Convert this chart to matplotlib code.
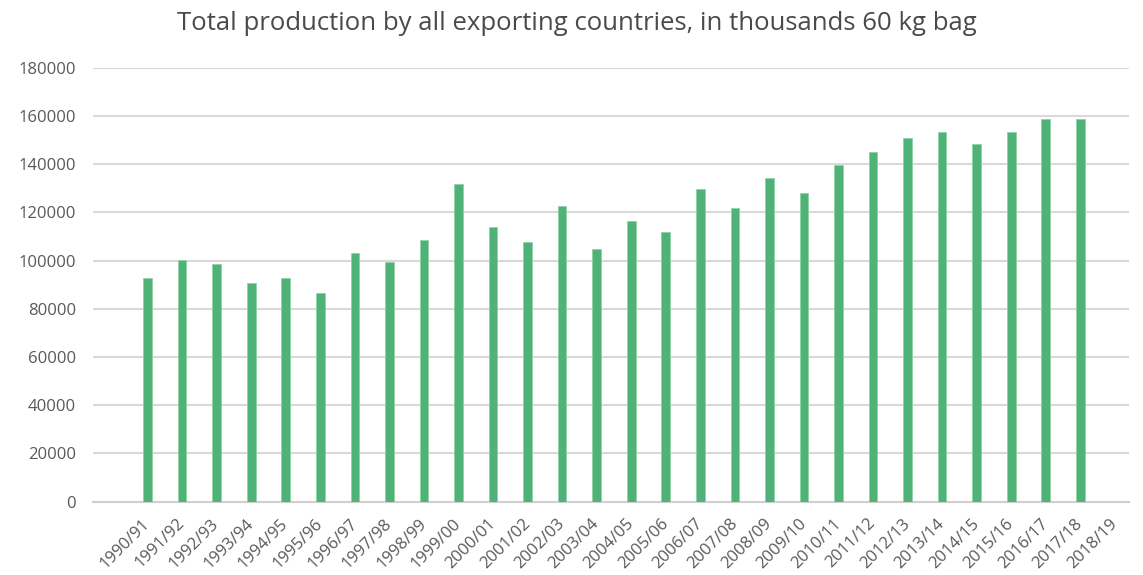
import numpy as np
import matplotlib
matplotlib.use("Agg")
import matplotlib.pyplot as plt

# Coffee production per crop year (thousand 60 kg bags)
seasons = ["1990/91", "1991/92", "1992/93", "1993/94", "1994/95", "1995/96",
           "1996/97", "1997/98", "1998/99", "1999/00", "2000/01", "2001/02",
           "2002/03", "2003/04", "2004/05", "2005/06", "2006/07", "2007/08",
           "2008/09", "2009/10", "2010/11", "2011/12", "2012/13", "2013/14",
           "2014/15", "2015/16", "2016/17", "2017/18", "2018/19"]
production = [92600, 100300, 98600, 90800, 92600, 86600,
              103200, 99600, 108400, 131600, 113800, 107600,
              122600, 104900, 116400, 112000, 129500, 121700,
              134200, 128200, 139600, 145000, 151000, 153500,
              148400, 153500, 158600, 158600, np.nan]
y_ticks = [0, 20000, 40000, 60000, 80000, 100000, 120000, 140000, 160000, 180000]

plt.rcParams['font.family'] = ['Open Sans', 'DejaVu Sans']
text_col = "#595959"

fig = plt.figure(figsize=(11.43, 5.75), dpi=100)
ax = fig.add_axes([0.0811, 0.1275, 0.9067, 0.7548])

x = np.arange(len(seasons))
ax.bar(x, production, width=0.25, color="#4fb377", edgecolor="#8fd3a8",
       linewidth=0.6, zorder=3)

ax.set_xlim(-1.59, len(seasons) - 0.59)
ax.set_ylim(0, 180000)
ax.set_yticks(y_ticks)
ax.set_yticklabels([str(v) for v in y_ticks])
ax.set_xticks(x)
ax.set_xticklabels(seasons, rotation=45, ha="right", va="center",
                   rotation_mode="anchor")

ax.grid(axis="y", color="#d9d9d9", linewidth=1.5, zorder=0)
for s in ["top", "right", "left"]:
    ax.spines[s].set_visible(False)
ax.spines["bottom"].set_color("#d0d0d0")
ax.spines["bottom"].set_linewidth(1.5)
ax.tick_params(axis="x", length=0, pad=14, labelsize=12, labelcolor=text_col)
ax.tick_params(axis="y", length=0, pad=12, labelsize=12, labelcolor=text_col)

fig.suptitle("Total production by all exporting countries, in thousands 60 kg bag",
             x=0.505, y=0.98, fontsize=18.5, color="#4a4a4a")

fig.savefig("out.png", dpi=100)
